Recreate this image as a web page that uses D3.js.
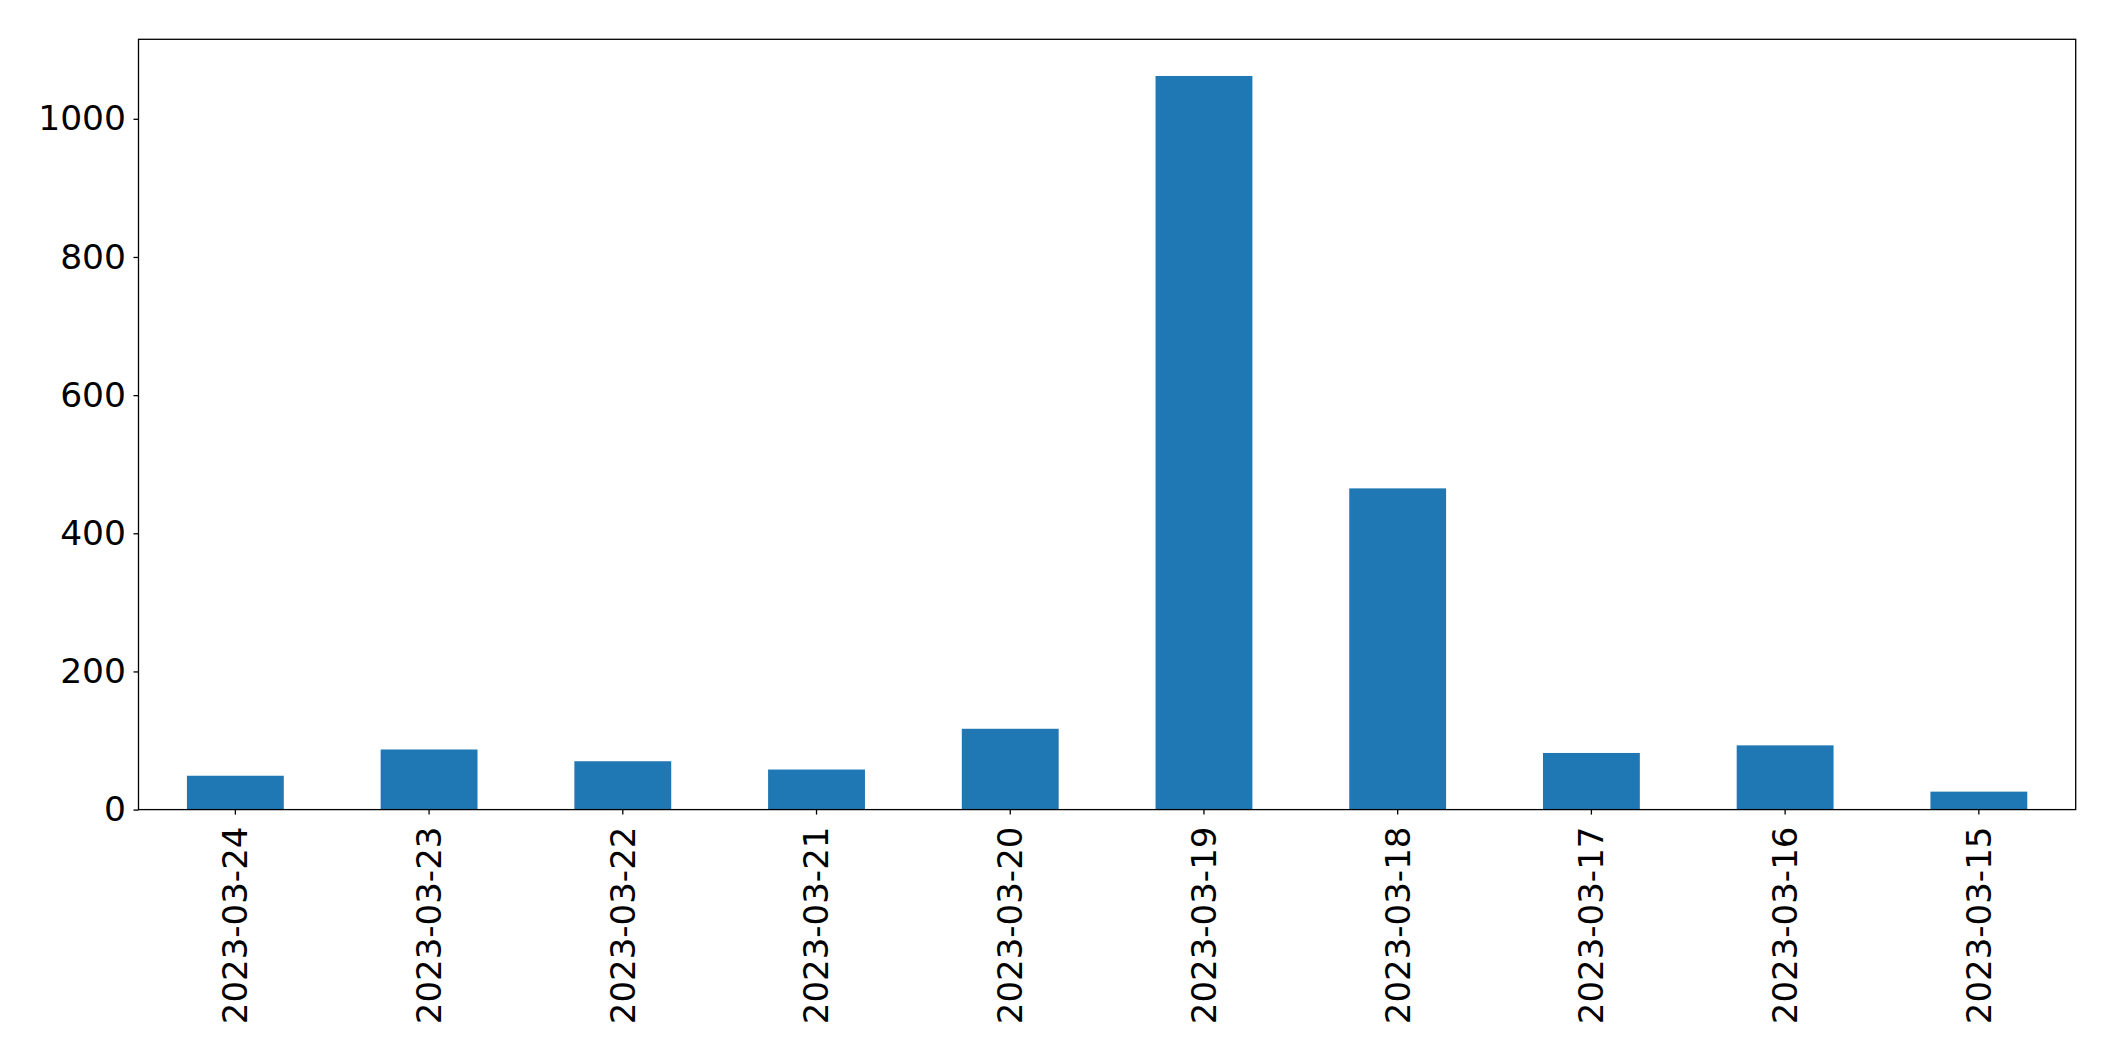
<!doctype html>
<html lang="en">
  <head>
    <meta charset="utf-8">
    <script src="https://d3js.org/d3.v7.min.js"></script>
    <title>Counts per day</title>
    <style>
      body { margin: 0; background: #fff; }
      text { font-family: "DejaVu Sans", sans-serif; }
    </style>
  </head>
  <body>
    <div id="chart"></div>
    <script type="text/javascript">
      // values
      const dates = ["2023-03-24", "2023-03-23", "2023-03-22", "2023-03-21", "2023-03-20",
                     "2023-03-19", "2023-03-18", "2023-03-17", "2023-03-16", "2023-03-15"];
      const counts = [49, 87, 70, 58, 117, 1062, 465, 82, 93, 26];
      const yTicks = [0, 200, 400, 600, 800, 1000];

      const W = 2115, H = 1061;
      const margin = {top: 39.3, right: W - 2075.7, bottom: H - 809.6, left: 138.5};
      const width = W - margin.left - margin.right,
            height = H - margin.top - margin.bottom;

      const svg = d3.select("#chart")
        .append("svg")
          .attr("width", W)
          .attr("height", H)
        .append("g")
          .attr("transform", "translate(" + margin.left + "," + margin.top + ")");

      // band scale like matplotlib bar(width=0.5) with xlim (-0.5, n-0.5)
      const x = d3.scaleBand()
        .domain(dates)
        .range([0, width])
        .paddingInner(0.5)
        .paddingOuter(0.25);

      const y = d3.scaleLinear()
        .domain([0, d3.max(counts) * 1.05])
        .range([height, 0]);

      // bars
      svg.append("g")
        .selectAll("rect")
        .data(counts)
        .enter()
        .append("rect")
          .attr("x", (d, i) => x(dates[i]))
          .attr("y", d => y(d))
          .attr("width", x.bandwidth())
          .attr("height", d => height - y(d))
          .attr("fill", "#1f77b4");

      // y axis
      const gy = svg.append("g")
        .call(d3.axisLeft(y).tickValues(yTicks).tickFormat(d3.format("d")).tickSize(5).tickPadding(7.5));
      gy.select(".domain").remove();
      gy.selectAll(".tick line").attr("stroke", "#000").attr("stroke-width", 1.3);
      gy.selectAll(".tick text")
        .attr("fill", "#000")
        .style("font-size", "34.5px")
        .style("font-family", "DejaVu Sans");

      // x axis with rotated labels
      const gx = svg.append("g")
        .attr("transform", "translate(0," + height + ")")
        .call(d3.axisBottom(x).tickSize(5));
      gx.select(".domain").remove();
      gx.selectAll(".tick line").attr("stroke", "#000").attr("stroke-width", 1.3);
      gx.selectAll(".tick text")
        .attr("fill", "#000")
        .attr("transform", "rotate(-90)")
        .attr("x", -17)
        .attr("y", 0)
        .attr("dy", "0.35em")
        .style("text-anchor", "end")
        .style("font-size", "34px")
        .style("font-family", "DejaVu Sans");

      // frame
      svg.append("rect")
        .attr("x", 0)
        .attr("y", 0)
        .attr("width", width)
        .attr("height", height)
        .attr("fill", "none")
        .attr("stroke", "#000")
        .attr("stroke-width", 1.3);
    </script>
  </body>
</html>
